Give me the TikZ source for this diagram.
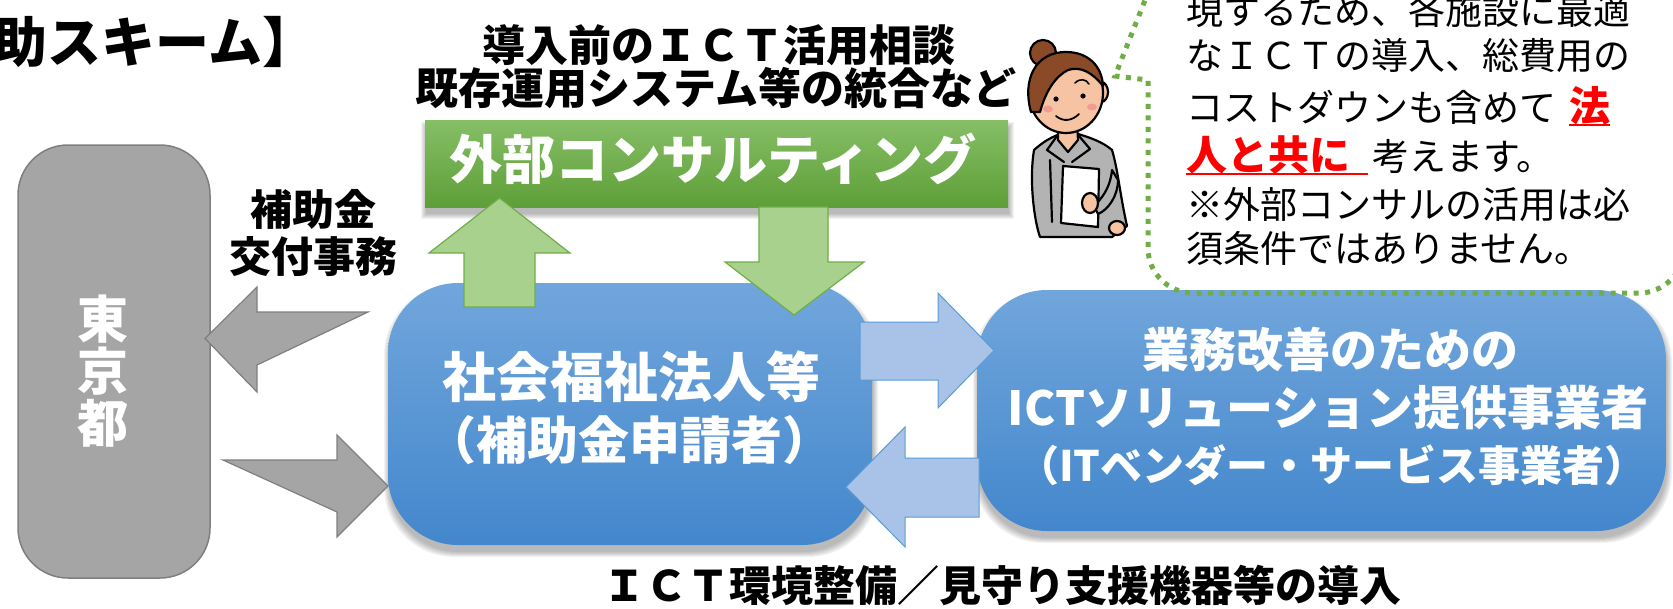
\documentclass[tikz,border=0pt]{standalone}
\usepackage{fontspec}
\setmainfont{Noto Sans CJK JP}
\usetikzlibrary{calc}

\definecolor{boxgray}{HTML}{A5A5A5}
\definecolor{edgegray}{HTML}{7F7F7F}
\definecolor{arrowgreen}{HTML}{A9D18E}
\definecolor{edgegreen}{HTML}{70AD47}
\definecolor{arrowblue}{HTML}{A8C3E7}
\definecolor{edgeblue}{HTML}{5B9BD5}
\definecolor{bluetop}{HTML}{71A6DC}
\definecolor{bluebot}{HTML}{4387CC}
\definecolor{greentop}{HTML}{86BE66}
\definecolor{greenbot}{HTML}{5E9F38}
\definecolor{dotgreen}{HTML}{70AD47}
\definecolor{hair}{HTML}{8A4A28}
\definecolor{skin}{HTML}{F6C3A3}
\definecolor{blush}{HTML}{EE8C8C}
\definecolor{suit}{HTML}{B3B3B3}
\definecolor{alertred}{HTML}{FF0000}

\newcommand\fsz[1]{\fontsize{#1}{#1}\selectfont}
% soft shadow under a box: x1, y1, x2, y2, corner radius
\newcommand\softshade[5]{%
  \foreach \k in {0,1,...,5}{%
    \fill[black,opacity=0.05,rounded corners=#5]
      (#1-\k+1,#2-\k+7) rectangle (#3+\k+1,#4+\k+7);}}

\begin{document}
\begin{tikzpicture}[x=1pt,y=-1pt,
  txt/.style={inner sep=0pt,outer sep=0pt},
  heading/.style={txt,font=\bfseries\fsz{43}},
  graybox/.style={draw=edgegray,line width=1.5pt,fill=boxgray,rounded corners=50pt},
  bluebox/.style={top color=bluetop,bottom color=bluebot,rounded corners=70pt,draw=none,inner sep=0pt},
  greenbox/.style={top color=greentop,bottom color=greenbot,draw=none,inner sep=0pt},
  grayarrow/.style={draw=edgegray,line width=1.2pt,fill=boxgray,line join=miter},
  greenarrow/.style={draw=edgegreen,line width=1.2pt,fill=arrowgreen,line join=miter},
  bluearrow/.style={draw=edgeblue,line width=1pt,fill=arrowblue,line join=miter},
  bubble/.style={draw=dotgreen,line width=5pt,dash pattern=on 5pt off 6.5pt},
  note/.style={txt,anchor=base west,font=\fsz{37}},
  notered/.style={txt,anchor=base west,text=alertred,font=\bfseries\fsz{41}},
  ink/.style={draw=black,line width=2.2pt,line join=round,line cap=round},
]
\useasboundingbox (0,0) rectangle (1673,608);

% title (runs off the left edge)
\node[txt,anchor=west,font=\bfseries\fsz{54}] (title) at (-6,42) {助スキーム】};

% headings above the consulting box
\node[heading] (pre1) at (719,45) {導入前のＩＣＴ活用相談};
\node[heading] (pre2) at (716,88) {既存運用システム等の統合など};

% consulting box
\softshade{425}{120}{1008}{207}{0pt}
\node[greenbox,minimum width=583pt,minimum height=87pt] (consul) at (716.5,163.5) {};
\node[txt,text=white,font=\bfseries\fsz{53}] (consul-t) at (713,159) {外部コンサルティング};

% Tokyo box
\node[graybox,minimum width=192pt,minimum height=433pt] (tokyo) at (114,361.5) {};
\node[txt,text=white,font=\bfseries\fontsize{51}{52}\selectfont,align=center] (tokyo-t) at (103,371) {東\\京\\都};

\node[txt,font=\bfseries\fontsize{42}{47}\selectfont,align=center] (grant) at (313,233) {補助金\\交付事務};

% applicant box
\softshade{388}{283}{872}{545}{70pt}
\node[bluebox,minimum width=484pt,minimum height=262pt] (hojin) at (630,414) {};
\node[txt,text=white,font=\bfseries\fsz{54}] (hojin-t1) at (631,377) {社会福祉法人等};
\node[txt,text=white,font=\bfseries\fsz{51}] (hojin-t2) at (629,440) {（補助金申請者）};

% vendor box
\softshade{977}{290}{1666}{531}{70pt}
\node[bluebox,minimum width=689pt,minimum height=241pt] (vendor) at (1321.5,410.5) {};
\node[txt,text=white,font=\bfseries\fsz{47}] (vendor-t1) at (1330,350) {業務改善のための};
\node[txt,text=white,font=\bfseries\fsz{47}] (vendor-t2) at (1328,408) {ICTソリューション提供事業者};
\node[txt,text=white,font=\bfseries\fsz{42}] (vendor-t3) at (1332,465) {（ITベンダー・サービス事業者）};

% gray block arrows between Tokyo and applicant
\draw[grayarrow] (368,312) -- (257,312) -- (257,287) -- (205,338.5) -- (257,392) -- (257,365) -- cycle;
\draw[grayarrow] (223,460) -- (337,460) -- (337,435) -- (388,486) -- (337,537) -- (337,512) -- cycle;

% green block arrows between applicant and consulting
\draw[greenarrow] (464,307) -- (464,253) -- (429,253) -- (499.5,198) -- (570,253) -- (535,253) -- (535,307) -- cycle;
\draw[greenarrow] (759,207) -- (759,262) -- (725,262) -- (794,315) -- (864,262) -- (828,262) -- (828,207) -- cycle;

% blue block arrows between applicant and vendor
\draw[bluearrow] (860,322) -- (938,322) -- (938,293) -- (994,350.5) -- (938,408) -- (938,380) -- (860,380) -- cycle;
\draw[bluearrow] (979,458) -- (905,458) -- (905,427) -- (846,487) -- (905,547) -- (905,517) -- (979,517) -- cycle;

% bottom caption
\node[txt,font=\bfseries\fsz{42}] (intro) at (1002,585) {ＩＣＴ環境整備／見守り支援機器等の導入};

% speech bubble
\draw[bubble] (1149,-10) -- (1115,76) -- (1148,80)
  [rounded corners=45pt] -- (1148,293) -- (1684,293) -- (1684,-10);
\node[note] (n1) at (1186,24) {現するため、各施設に最適};
\node[note] (n2) at (1186,69) {なＩＣＴの導入、総費用の};
\node[note] (n3) at (1186,121) {コストダウンも含めて};
\node[notered] (n3r) at (1569,121) {法};
\node[notered] (n4r) at (1186,170) {人と共に};
\node[note] (n4) at (1372,170) {考えます。};
\node[note] (n5) at (1186,218) {※外部コンサルの活用は必};
\node[note] (n6) at (1186,262) {須条件ではありません。};
\draw[alertred,line width=2.6pt] ([yshift=-4pt]n3r.base west) -- ([yshift=-4pt]n3r.base east);
\draw[alertred,line width=2.6pt] ([yshift=-4pt]n4r.base west) -- ([xshift=18pt,yshift=-4pt]n4r.base east);

% consultant figure
\filldraw[ink,fill=suit] (1034,150) .. controls (1044,141) and (1052,137) .. (1060,134) -- (1078,134)
  .. controls (1092,138) and (1104,143) .. (1112,150) .. controls (1118,170) and (1120,195) .. (1127,226)
  -- (1112,237) -- (1040,237) .. controls (1034,220) and (1029,180) .. (1034,150) -- cycle;
\filldraw[ink,fill=skin] (1058,122) -- (1058,140) -- (1068,152) -- (1078,140) -- (1077,122) -- cycle;
\draw[ink] (1057,136) -- (1047,150) -- (1064,162);
\draw[ink] (1079,136) -- (1090,149) -- (1072,162);
\draw[ink] (1050,160) -- (1052,222);
\filldraw[ink,fill=white] (1063,166) -- (1099,169) -- (1098,227) -- (1061,223) -- cycle;
\filldraw[ink,fill=suit] (1112,170) .. controls (1110,190) and (1100,200) .. (1094,206) -- (1098,214) .. controls (1108,210) and (1118,196) .. (1118,180) -- cycle;
\filldraw[ink,fill=skin] (1090,203) ellipse[x radius=8,y radius=10];
\filldraw[ink,fill=skin] (1117,228) ellipse[x radius=8,y radius=7];
\filldraw[ink,fill=hair] (1043,53) circle[radius=13];
\filldraw[ink,fill=skin] (1101,92) ellipse[x radius=7,y radius=10];
\filldraw[ink,fill=skin] (1066,93) ellipse[x radius=37,y radius=40];
\filldraw[ink,fill=hair] (1031,112) .. controls (1022,80) and (1035,52) .. (1066,52)
  .. controls (1088,52) and (1102,66) .. (1103,86)
  .. controls (1092,72) and (1080,66) .. (1068,70)
  .. controls (1056,76) and (1046,90) .. (1040,112) -- cycle;
\fill (1056,99) circle[radius=2.6];
\fill (1083,96) circle[radius=2.6];
\draw[ink,line width=1.6pt] (1075,83) .. controls (1080,78) and (1086,79) .. (1089,84);
\fill[blush,opacity=0.7] (1048,109) ellipse[x radius=5,y radius=3.5];
\fill[blush,opacity=0.7] (1092,107) ellipse[x radius=5,y radius=3.5];
\draw[ink,line width=1.8pt] (1056,116) .. controls (1063,122) and (1072,121) .. (1079,114);
\end{tikzpicture}
\end{document}
